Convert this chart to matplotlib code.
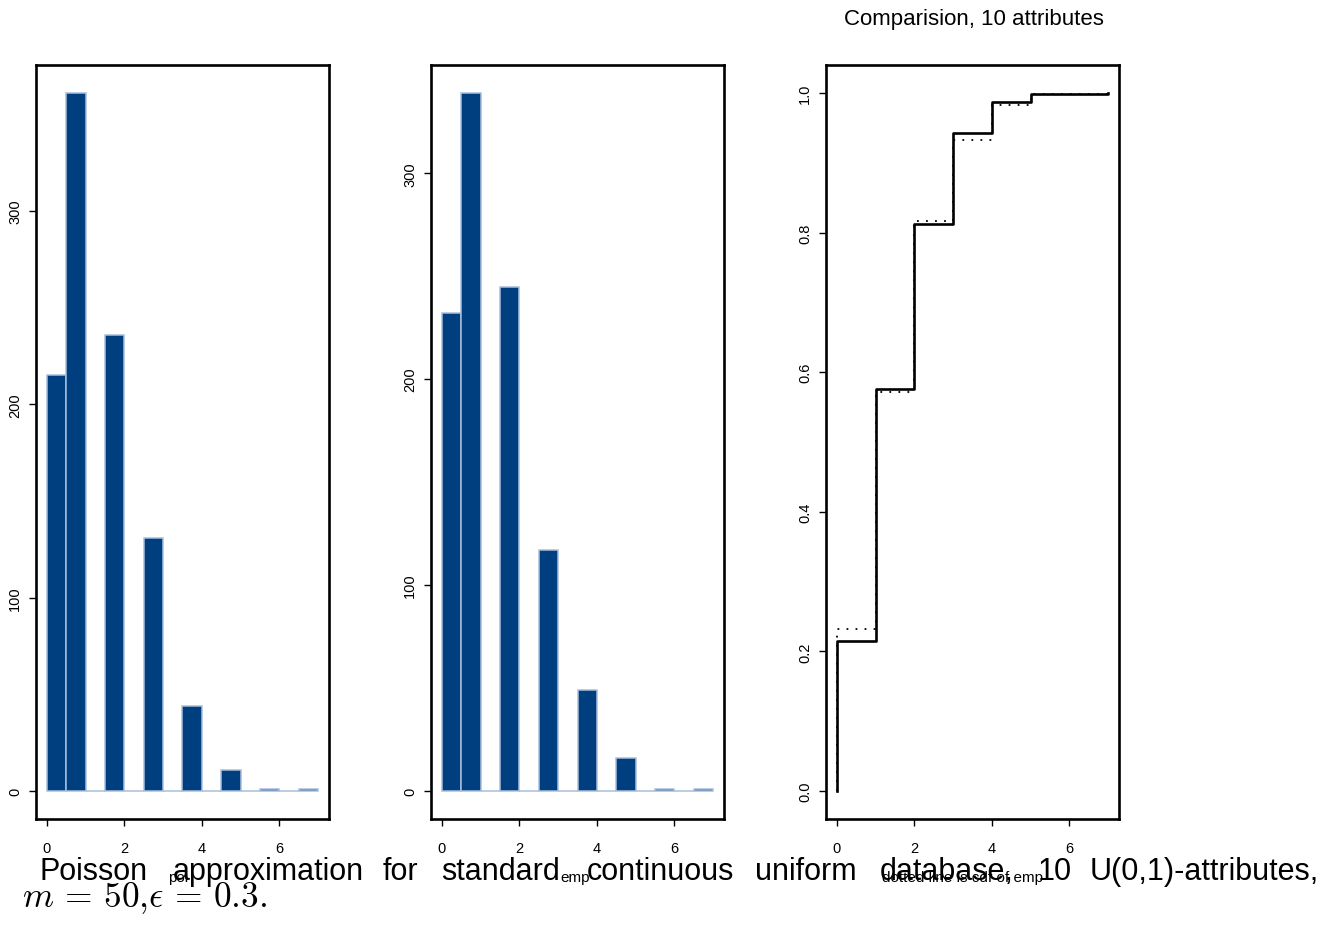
import matplotlib
matplotlib.use("Agg")
import matplotlib.pyplot as plt
import numpy as np

plt.rcParams['font.family'] = ['Liberation Sans', 'DejaVu Sans']
plt.rcParams['mathtext.fontset'] = 'cm'

# counts of each value 0..7
values = np.arange(8)
poi_counts = [215, 361, 236, 131, 44, 11, 1, 1]
emp_counts = [232, 339, 245, 117, 49, 16, 1, 1]

title = "Comparision, 10 attributes"
xlabels = ["poi", "emp", "dotted line is cdf of emp"]
xlabel_x = [178, 575, 963]
caption_words = ["Poisson", "approximation", "for", "standard", "continuous",
                 "uniform", "database,", "10", "U(0,1)-attributes,"]
caption_x = [40, 173, 383, 441, 587, 755, 880, 1038, 1090]
caption_math = r"$m\,=\,50{,}\epsilon\,=\,0.3.$"

W, H = 1344, 928
fig = plt.figure(figsize=(W / 100, H / 100), dpi=100)

dark = "#003f7f"
light = "#a9bedc"


def style_axes(ax, yticks):
    for s in ax.spines.values():
        s.set_linewidth(1.9)
        s.set_color("black")
    ax.set_xlim(-0.28, 7.28)
    ax.set_xticks([0, 2, 4, 6])
    ax.set_yticks(yticks)
    ax.tick_params(axis="x", length=5, width=1, pad=11, labelsize=10.5)
    ax.tick_params(axis="y", length=5, width=1, pad=5, labelsize=10.5)
    for lab in ax.get_yticklabels():
        lab.set_rotation(90)
        lab.set_va("center")


def hist_panel(ax, counts, ymax):
    # bins of width 0.5; value k falls in (k-0.5, k], value 0 in [0, 0.5]
    edges = np.arange(0, 7.01, 0.5)
    heights = np.zeros(len(edges) - 1)
    for v, c in zip(values, counts):
        idx = 0 if v == 0 else 2 * v - 1
        heights[idx] = c
    ax.bar(edges[:-1], heights, width=0.5, align="edge", color=dark,
           edgecolor=light, linewidth=1.1)
    pad = 0.04 * ymax
    ax.set_ylim(-pad, ymax + pad)


lefts = [36, 431, 826]
axw, axh = 293, 754
axes = []
for l in lefts:
    ax = fig.add_axes([l / W, 1 - (66 + axh) / H, axw / W, axh / H])
    axes.append(ax)

hist_panel(axes[0], poi_counts, max(poi_counts))
style_axes(axes[0], [0, 100, 200, 300])
hist_panel(axes[1], emp_counts, max(emp_counts))
style_axes(axes[1], [0, 100, 200, 300])

poi_cdf = np.cumsum(poi_counts) / np.sum(poi_counts)
emp_cdf = np.cumsum(emp_counts) / np.sum(emp_counts)
xs = np.concatenate([[0], values])
ax3 = axes[2]
ax3.plot(xs, np.concatenate([[0], poi_cdf]), drawstyle="steps-post",
         color="black", linewidth=1.9)
ax3.plot(xs, np.concatenate([[0], emp_cdf]), drawstyle="steps-post",
         color="black", linewidth=1.3, linestyle=(0, (1, 4)))
ax3.set_ylim(-0.04, 1.04)
style_axes(ax3, [0.0, 0.2, 0.4, 0.6, 0.8, 1.0])
ax3.set_yticklabels(["0.0", "0.2", "0.4", "0.6", "0.8", "1.0"], rotation=90, va="center")

fig.text(974 / W, 1 - 19 / H, title, ha="center", va="center", fontsize=16)

for x, lab in zip(xlabel_x, xlabels):
    fig.text(x / W, 1 - 878 / H, lab, ha="center", va="center", fontsize=11)

for word, x in zip(caption_words, caption_x):
    fig.text(x / W, 1 - 880 / H, word, ha="left", va="baseline", fontsize=22)
fig.text(22 / W, 1 - 907 / H, caption_math, ha="left", va="baseline", fontsize=25.5)

fig.savefig("out.png", dpi=100)
